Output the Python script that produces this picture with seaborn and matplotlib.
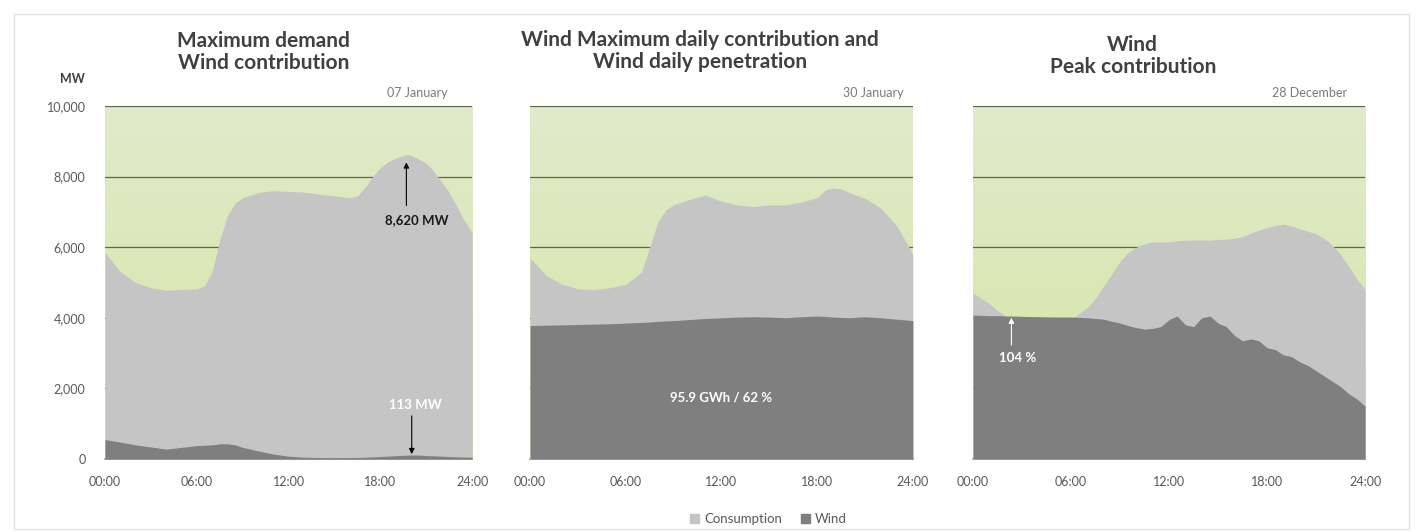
import numpy as np
import matplotlib
matplotlib.use("Agg")
import matplotlib.pyplot as plt
import seaborn as sns
from matplotlib.patches import Patch, Rectangle

# 07 January - maximum demand
hours_jan07 = [0, 1, 2, 3, 4, 5, 6, 6.5, 7, 7.5, 8, 8.5, 9, 10, 11, 12, 13, 14, 15, 16, 16.5,
               17, 17.5, 18, 18.5, 19, 19.5, 19.75, 20, 20.5, 21, 21.5, 22, 22.5, 23, 23.5, 24]
consumption_jan07 = [5850, 5300, 5000, 4850, 4780, 4800, 4820, 4900, 5300, 6200, 6900, 7250, 7400,
                     7550, 7600, 7580, 7560, 7500, 7450, 7400, 7450, 7700, 8000, 8250, 8420, 8520,
                     8600, 8620, 8600, 8500, 8380, 8150, 7850, 7550, 7150, 6750, 6400]
wind_jan07 = [550, 480, 400, 340, 280, 330, 380, 390, 400, 430, 430, 400, 330, 230, 140, 80, 50,
              40, 35, 40, 45, 50, 60, 70, 80, 95, 105, 110, 113, 110, 100, 90, 80, 70, 60, 55, 50]

# 30 January - max daily wind contribution
hours_jan30 = [0, 1, 2, 3, 4, 5, 6, 7, 7.5, 8, 8.5, 9, 10, 11, 12, 13, 14, 15, 16, 17, 18,
               18.5, 19, 19.5, 20, 21, 22, 23, 23.5, 24]
consumption_jan30 = [5700, 5200, 4950, 4820, 4800, 4850, 4950, 5300, 6000, 6700, 7050, 7200,
                     7350, 7480, 7300, 7200, 7150, 7200, 7200, 7280, 7400, 7620, 7680, 7650,
                     7550, 7380, 7100, 6600, 6200, 5800]
wind_jan30 = [3780, 3790, 3800, 3810, 3820, 3830, 3850, 3870, 3880, 3900, 3910, 3920, 3950,
              3980, 4000, 4020, 4030, 4020, 4000, 4030, 4050, 4040, 4020, 4010, 4000, 4030,
              4000, 3960, 3940, 3920]

# 28 December - wind peak contribution
hours_dec28 = [0, 0.5, 1, 1.5, 2, 2.5, 3, 4, 5, 6, 7, 7.5, 8, 8.5, 9, 9.5, 10, 10.5, 11, 11.5,
               12, 12.5, 13, 13.5, 14, 14.5, 15, 15.5, 16, 16.5, 17, 17.5, 18, 18.5, 19, 19.5,
               20, 20.5, 21, 21.5, 22, 22.5, 23, 23.5, 24]
consumption_dec28 = [4700, 4550, 4400, 4200, 4050, 3950, 3900, 3880, 3900, 3950, 4300, 4550,
                     4900, 5250, 5600, 5850, 6000, 6100, 6150, 6150, 6150, 6180, 6200, 6200,
                     6200, 6200, 6220, 6230, 6250, 6300, 6400, 6480, 6550, 6620, 6650, 6600,
                     6520, 6450, 6380, 6250, 6050, 5800, 5450, 5100, 4800]
wind_dec28 = [4080, 4070, 4060, 4060, 4050, 4050, 4040, 4030, 4020, 4020, 4000, 3980, 3960,
              3900, 3850, 3780, 3720, 3680, 3700, 3750, 3950, 4050, 3800, 3750, 4000, 4050,
              3850, 3750, 3500, 3350, 3400, 3350, 3150, 3100, 2950, 2900, 2750, 2650, 2500,
              2350, 2200, 2050, 1850, 1700, 1500]

titles = ["Maximum demand\nWind contribution",
          "Wind Maximum daily contribution and\nWind daily penetration",
          "Wind\nPeak contribution"]
dates = ["07 January", "30 January", "28 December"]
yticks = [0, 2000, 4000, 6000, 8000, 10000]
xticks = [0, 6, 12, 18, 24]
xtick_labels = ["00:00", "06:00", "12:00", "18:00", "24:00"]

cons_color = "#c5c5c5"
wind_color = "#7f7f7f"
grid_color = "#5d6848"

sns.set_theme(style="white")
plt.rcParams["font.family"] = ["Lato", "DejaVu Sans"]

fig = plt.figure(figsize=(14.23, 5.32), dpi=100)
fig.patches.append(Rectangle((0.01, 0.005), 0.98, 0.968, transform=fig.transFigure,
                             fill=False, edgecolor="#e2e2e2", linewidth=1))

positions = [[0.0738, 0.1372, 0.258, 0.6636],
             [0.3725, 0.1372, 0.269, 0.6636],
             [0.6838, 0.1372, 0.2755, 0.6636]]
data = [(hours_jan07, consumption_jan07, wind_jan07),
        (hours_jan30, consumption_jan30, wind_jan30),
        (hours_dec28, consumption_dec28, wind_dec28)]
date_x = [22.4, 23.4, 22.9]

# gradient for the green plot area
grad = np.linspace(0, 1, 256).reshape(-1, 1)
green_cmap = matplotlib.colors.LinearSegmentedColormap.from_list("g", ["#d4e6a2", "#e1eacc"])

axes = []
for i, (pos, (t, c, w)) in enumerate(zip(positions, data)):
    ax = fig.add_axes(pos)
    axes.append(ax)
    ax.imshow(grad, cmap=green_cmap, aspect="auto", extent=[0, 24, 0, 10000],
              origin="lower", zorder=0)
    for g in yticks[1:]:
        ax.axhline(g, color=grid_color, linewidth=0.9, zorder=1)
    ax.fill_between(t, c, color=cons_color, linewidth=0, zorder=2)
    ax.fill_between(t, w, color=wind_color, linewidth=0, zorder=3)
    ax.set_xlim(0, 24)
    ax.set_ylim(0, 10000)
    ax.set_xticks(xticks)
    ax.set_xticklabels(xtick_labels, fontsize=9, color="#595959")
    ax.tick_params(axis="x", length=3, color="#a0a0a0", pad=9)
    if i == 0:
        ax.set_yticks(yticks)
        ax.set_yticklabels([f"{v:,}" for v in yticks], fontsize=9, color="#595959")
        ax.tick_params(axis="y", length=0, pad=14)
    else:
        ax.set_yticks([])
    for s in ["top", "right", "left"]:
        ax.spines[s].set_visible(False)
    ax.spines["bottom"].set_color("#a6a6a6")
    ax.text(date_x[i], 10200, dates[i], ha="right", va="bottom", fontsize=9, color="#7a7a7a")

title_x = [0.185, 0.492, 0.796]
title_y = [0.902, 0.904, 0.895]
for i in range(3):
    fig.text(title_x[i], title_y[i], titles[i], ha="center", va="center", fontsize=15,
             color="#404040", fontweight="bold", linespacing=1.1)
fig.text(0.051, 0.852, "MW", ha="center", va="center", fontsize=9,
         color="#404040", fontweight="bold")

# annotations
ax1, ax2, ax3 = axes
ax1.annotate("", xy=(19.7, 8480), xytext=(19.7, 7100),
             arrowprops=dict(arrowstyle="-|>", color="black", lw=0.8, mutation_scale=8))
ax1.text(20.4, 6770, "8,620 MW", ha="center", va="center", fontsize=9.5,
         color="#1a1a1a", fontweight="bold")
ax1.text(20.3, 1530, "113 MW", ha="center", va="center", fontsize=9.5,
         color="white", fontweight="bold")
ax1.annotate("", xy=(20.05, 60), xytext=(20.05, 1300),
             arrowprops=dict(arrowstyle="-|>", color="black", lw=0.8, mutation_scale=8))
ax2.text(12, 1730, "95.9 GWh / 62 %", ha="center", va="center", fontsize=9.5,
         color="white", fontweight="bold")
ax3.annotate("", xy=(2.35, 4080), xytext=(2.35, 3150),
             arrowprops=dict(arrowstyle="-|>", color="white", lw=0.8, mutation_scale=8))
ax3.text(2.75, 2860, "104 %", ha="center", va="center", fontsize=9.5,
         color="white", fontweight="bold")

handles = [Patch(color=cons_color, label="Consumption"),
           Patch(color=wind_color, label="Wind")]
fig.legend(handles=handles, loc="center", bbox_to_anchor=(0.54, 0.024), ncol=2,
           frameon=False, fontsize=9.5, handlelength=0.7, handleheight=0.7,
           handletextpad=0.4, columnspacing=1.4, labelcolor="#595959")

fig.savefig("out.png", dpi=100)
